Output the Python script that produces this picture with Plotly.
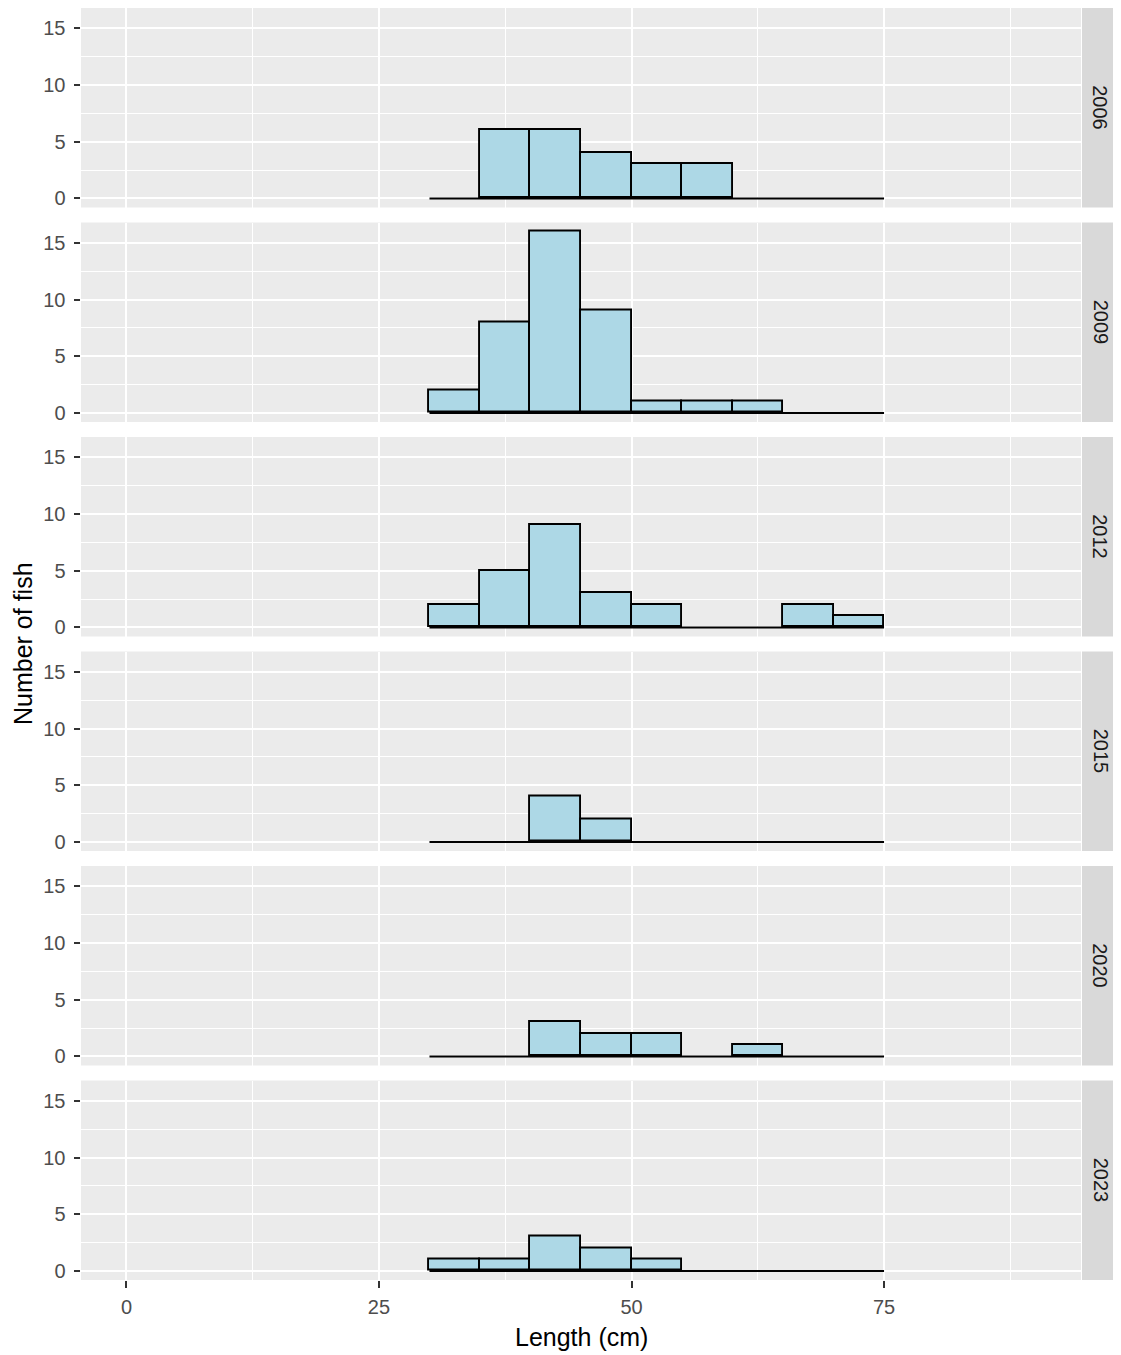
import plotly.graph_objects as go
from plotly.subplots import make_subplots

# ---- data ----
years = ["2006", "2009", "2012", "2015", "2020", "2023"]
bin_edges = [30, 35, 40, 45, 50, 55, 60, 65, 70, 75]
counts_2006 = [0, 6, 6, 4, 3, 3, 0, 0, 0]
counts_2009 = [2, 8, 16, 9, 1, 1, 1, 0, 0]
counts_2012 = [2, 5, 9, 3, 2, 0, 0, 2, 1]
counts_2015 = [0, 0, 4, 2, 0, 0, 0, 0, 0]
counts_2020 = [0, 0, 3, 2, 2, 0, 1, 0, 0]
counts_2023 = [1, 1, 3, 2, 1, 0, 0, 0, 0]
all_counts = [counts_2006, counts_2009, counts_2012, counts_2015, counts_2020, counts_2023]
x_ticks = [0, 25, 50, 75]
y_ticks = [0, 5, 10, 15]

# page has an 8px body margin, so the figure is sized/offset to compensate
W, H = 1113, 1347
ML, MR, MT, MB = 73, 40, 0, 75
plot_w = W - ML - MR
plot_h = H - MT - MB
gap = 15

fig = make_subplots(rows=6, cols=1, shared_xaxes=True,
                    vertical_spacing=gap / plot_h)

centers = [(a + b) / 2 for a, b in zip(bin_edges[:-1], bin_edges[1:])]
widths = [b - a for a, b in zip(bin_edges[:-1], bin_edges[1:])]

FONT = "Liberation Sans, Arial, sans-serif"
line_w = 1.9

for i, (yr, cnt) in enumerate(zip(years, all_counts)):
    r = i + 1
    # zero-height bins outline (baseline)
    fig.add_trace(go.Scatter(x=[bin_edges[0], bin_edges[-1]], y=[0, 0], mode="lines",
                             line=dict(color="black", width=line_w),
                             showlegend=False, hoverinfo="skip"), row=r, col=1)
    nz_x = [c for c, v in zip(centers, cnt) if v > 0]
    nz_y = [v for v in cnt if v > 0]
    nz_w = [w for w, v in zip(widths, cnt) if v > 0]
    fig.add_trace(go.Bar(x=nz_x, y=nz_y, width=nz_w,
                         marker=dict(color="#ADD8E6", line=dict(color="black", width=line_w)),
                         showlegend=False), row=r, col=1)
    yref = "y domain" if r == 1 else f"y{r} domain"
    fig.add_shape(type="rect", xref="paper", yref=yref,
                  x0=1.001, x1=1.04, y0=0, y1=1,
                  fillcolor="#D9D9D9", line=dict(width=0), layer="below")
    fig.add_annotation(xref="paper", yref=yref, x=1.0195, y=0.5,
                       text=yr, showarrow=False, textangle=90,
                       font=dict(family=FONT, size=20, color="#1A1A1A"),
                       xanchor="center", yanchor="middle")
    fig.update_yaxes(row=r, col=1, range=[-0.8, 16.8], tickvals=y_ticks,
                     showgrid=True, gridcolor="white", gridwidth=line_w,
                     zeroline=False, ticks="outside", ticklen=6.5,
                     tickcolor="#333333", tickwidth=line_w,
                     ticklabelstandoff=4,
                     tickfont=dict(family=FONT, size=20, color="#4D4D4D"),
                     minor=dict(tickvals=[2.5, 7.5, 12.5], showgrid=True,
                                gridcolor="white", gridwidth=0.95, ticks=""),
                     showline=False)
    fig.update_xaxes(row=r, col=1, range=[-4.5, 94.5], tickvals=x_ticks,
                     showgrid=True, gridcolor="white", gridwidth=line_w,
                     zeroline=False,
                     ticks="outside" if r == 6 else "", ticklen=6.5,
                     tickcolor="#333333", tickwidth=line_w,
                     showticklabels=(r == 6),
                     ticklabelstandoff=2,
                     tickfont=dict(family=FONT, size=20, color="#4D4D4D"),
                     minor=dict(tickvals=[12.5, 37.5, 62.5, 87.5], showgrid=True,
                                gridcolor="white", gridwidth=0.95, ticks=""),
                     showline=False)

# page-pixel positions converted to paper coords (plot area spans page y 8..1280, x 81..1081)
fig.add_annotation(xref="paper", yref="paper", x=0.5, y=-(1337 - 1280) / plot_h,
                   text="Length (cm)", showarrow=False,
                   font=dict(family=FONT, size=25, color="black"),
                   xanchor="center", yanchor="middle")
fig.add_annotation(xref="paper", yref="paper", x=(23 - 81) / plot_w, y=0.5,
                   text="Number of fish", showarrow=False, textangle=-90,
                   font=dict(family=FONT, size=25, color="black"),
                   xanchor="center", yanchor="middle")

fig.update_layout(width=W, height=H, margin=dict(l=ML, r=MR, t=MT, b=MB),
                  plot_bgcolor="#EBEBEB", paper_bgcolor="white",
                  bargap=0, barmode="overlay", showlegend=False,
                  font=dict(family=FONT))

fig.write_html("out.html")
